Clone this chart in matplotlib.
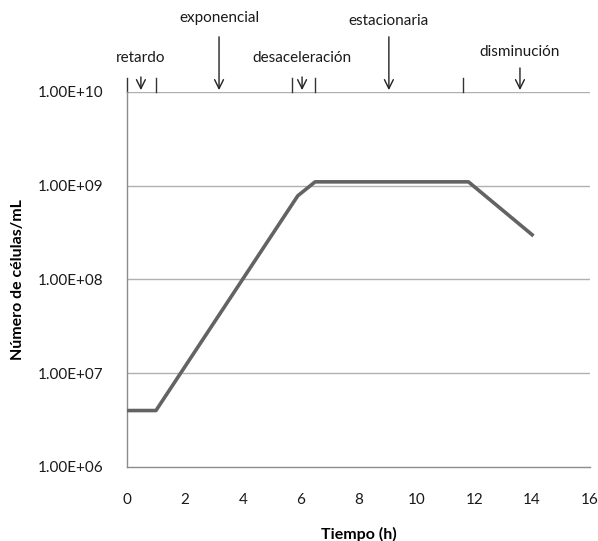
import matplotlib
matplotlib.use("Agg")
import matplotlib.pyplot as plt
from matplotlib.ticker import FixedLocator, FixedFormatter

plt.rcParams["font.family"] = ["Lato", "DejaVu Sans"]

# ─────────────────────────────────────────────
#  Dati
# ─────────────────────────────────────────────
tiempo = [0, 1, 5.9, 6.5, 11.8, 14]
celulas = [4e6, 4e6, 7.8e8, 1.1e9, 1.1e9, 3e8]

y_ticks = [1e6, 1e7, 1e8, 1e9, 1e10]
y_labels = ["1.00E+06", "1.00E+07", "1.00E+08", "1.00E+09", "1.00E+10"]
x_ticks = [0, 2, 4, 6, 8, 10, 12, 14, 16]

fases = ["retardo", "exponencial", "desaceleración", "estacionaria", "disminución"]
fase_x = [0.48, 3.18, 6.05, 9.05, 13.58]
# altezze (frazione asse) di testo e inizio freccia
fase_txt_y = [1.09, 1.197, 1.09, 1.19, 1.107]
fase_arrow_y = [1.04, 1.147, 1.04, 1.147, 1.064]
limiti = [0, 1, 5.7, 6.5, 11.6]

# ─────────────────────────────────────────────
#  Grafico
# ─────────────────────────────────────────────
fig = plt.figure(figsize=(5.98, 5.41), dpi=100)
ax = fig.add_axes([0.2124, 0.1368, 0.7742, 0.6932])

ax.set_yscale("log")
ax.set_xlim(0, 16)
ax.set_ylim(1e6, 1e10)

for y in y_ticks[1:]:
    ax.axhline(y, color="#b0b0b0", lw=1, zorder=1)

ax.plot(tiempo, celulas, color="#636363", lw=2.6, zorder=3)

ax.yaxis.set_major_locator(FixedLocator(y_ticks))
ax.yaxis.set_major_formatter(FixedFormatter(y_labels))
ax.yaxis.set_minor_locator(FixedLocator([]))
ax.set_xticks(x_ticks)
ax.tick_params(axis="both", length=0, labelsize=11, colors="#1a1a1a")
ax.tick_params(axis="y", pad=17)
ax.tick_params(axis="x", pad=19)

for s in ["top", "right"]:
    ax.spines[s].set_visible(False)
for s in ["left", "bottom"]:
    ax.spines[s].set_color("#8c8c8c")
    ax.spines[s].set_linewidth(1)

ax.set_ylabel("Número de células/mL", fontsize=11.5, fontweight="bold", labelpad=9)
ax.set_xlabel("Tiempo (h)", fontsize=11.5, fontweight="bold", labelpad=14)

trans = ax.get_xaxis_transform()
for xl in limiti:
    ax.plot([xl, xl], [1.0, 1.037], transform=trans, color="#333333",
            lw=1, clip_on=False)

for nome, xf, ty, ay in zip(fases, fase_x, fase_txt_y, fase_arrow_y):
    ax.text(xf, ty, nome, transform=trans, ha="center", va="center",
            fontsize=11, color="#1a1a1a")
    ax.annotate("", xy=(xf, 1.005), xytext=(xf, ay), xycoords=trans,
                textcoords=trans,
                arrowprops=dict(arrowstyle="->", color="#222222", lw=1,
                                mutation_scale=16, shrinkA=0, shrinkB=0))

fig.savefig("out.png", dpi=100)
